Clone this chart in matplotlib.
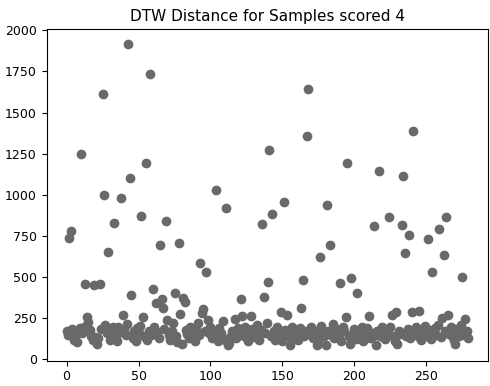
import numpy as np
import matplotlib
matplotlib.use("Agg")
import matplotlib.pyplot as plt

# DTW distance per sample (index = sample number)
dtw_distanze = [
    170, 150, 740, 782, 185, 120, 140, 105, 175, 190,
    1246, 160, 195, 458, 259, 230, 180, 145, 120, 452,
    135, 95, 130, 460, 185, 1615, 999, 210, 160, 655,
    120, 175, 200, 831, 140, 115, 195, 165, 983, 269,
    180, 150, 215, 1917, 1102, 391, 130, 175, 110, 190,
    160, 205, 869, 259, 140, 1191, 120, 175, 1737, 150,
    427, 195, 340, 165, 130, 693, 365, 310, 185, 841,
    239, 150, 120, 175, 219, 405, 140, 105, 709, 274,
    95, 371, 350, 180, 155, 130, 200, 165, 140, 110,
    185, 219, 150, 585, 280, 304, 175, 531, 240, 160,
    200, 130, 175, 145, 1027, 110, 190, 160, 135, 235,
    120, 920, 90, 100, 140, 175, 155, 243, 130, 190,
    165, 365, 263, 140, 200, 175, 115, 150, 263, 185,
    135, 165, 210, 145, 120, 180, 821, 377, 160, 219,
    472, 1272, 140, 886, 175, 120, 195, 155, 130, 289,
    110, 956, 180, 269, 145, 90, 165, 200, 130, 175,
    150, 120, 190, 314, 482, 140, 170, 1356, 1646, 160,
    195, 130, 175, 150, 85, 120, 624, 205, 165, 140,
    90, 940, 175, 695, 150, 215, 130, 185, 160, 145,
    462, 110, 200, 170, 259, 1191, 140, 95, 492, 155,
    185, 125, 405, 165, 140, 200, 115, 175, 150, 190,
    263, 130, 160, 145, 808, 85, 175, 1143, 140, 195,
    160, 125, 180, 150, 865, 200, 269, 140, 110, 289,
    95, 175, 155, 815, 1114, 644, 140, 185, 754, 130,
    289, 1388, 160, 195, 145, 296, 120, 175, 155, 205,
    140, 733, 180, 125, 533, 165, 190, 150, 210, 794,
    135, 249, 634, 175, 863, 269, 155, 200, 145, 120,
    95, 185, 165, 140, 210, 498, 150, 243, 175, 130,
]
campioni = np.arange(len(dtw_distanze))

plt.figure(figsize=(4.9, 3.86), dpi=100)
plt.subplots_adjust(left=0.095, right=0.996, top=0.925, bottom=0.066)
plt.scatter(campioni, dtw_distanze, color="dimgray")
plt.title("DTW Distance for Samples scored 4", fontsize=11)
plt.xticks(fontsize=9)
plt.yticks(fontsize=9)
plt.savefig("out.png", dpi=100)
